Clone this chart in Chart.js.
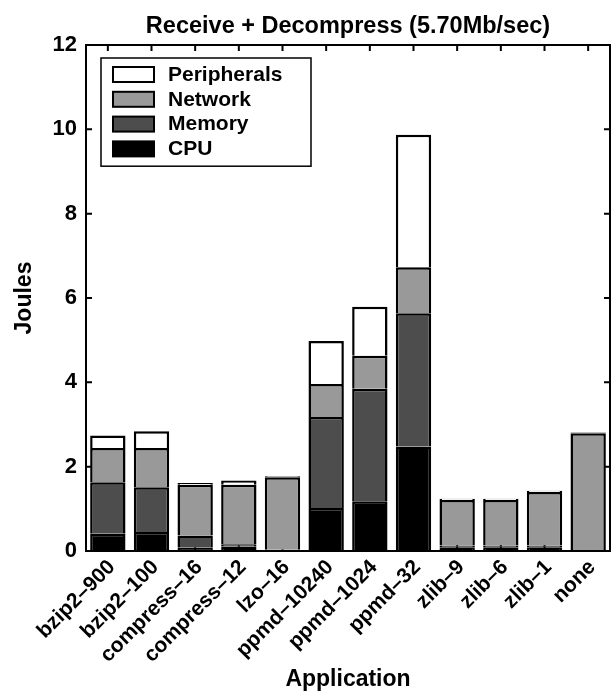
<!DOCTYPE html>
<html>
<head>
<meta charset="utf-8">
<title>Receive + Decompress</title>
<script src="https://cdn.jsdelivr.net/npm/chart.js@4.4.1/dist/chart.umd.min.js"></script>
<style>
  html, body { margin: 0; padding: 0; background: #fff; }
  canvas { display: block; }
</style>
</head>
<body>
<canvas id="energyChart" width="615" height="695"></canvas>
<script>
// Energy per application, split by component (Joules)
const applications = ['bzip2–900', 'bzip2–100', 'compress–16', 'compress–12', 'lzo–16',
  'ppmd–10240', 'ppmd–1024', 'ppmd–32', 'zlib–9', 'zlib–6', 'zlib–1', 'none'];
const cpu         = [0.41, 0.45, 0.08, 0.10, 0.02, 1.02, 1.18, 2.48, 0.09, 0.09, 0.09, 0];
const memory      = [1.22, 1.06, 0.29, 0.06, 0.01, 2.16, 2.67, 3.16, 0.04, 0.04, 0.04, 0];
const network     = [0.81, 0.93, 1.20, 1.41, 1.72, 0.78, 0.78, 1.09, 1.08, 1.08, 1.27, 2.79];
const peripherals = [0.30, 0.40, 0.04, 0.10, 0.02, 1.02, 1.16, 3.14, 0.03, 0.03, 0.03, 0.02];
const yTicks = [0, 2, 4, 6, 8, 10, 12];

const FONT = "'Liberation Sans', Arial, Helvetica, sans-serif";

function series(label, data, color) {
  return {
    label: label,
    data: data,
    backgroundColor: color,
    borderColor: '#000',
    borderWidth: 2.5,
    barPercentage: 0.81,
    categoryPercentage: 1.0
  };
}

// box around the plot with inward tick marks on all four sides
const frame = {
  id: 'frame',
  beforeDatasetsDraw(chart) {
    const { ctx, chartArea: a, scales } = chart;
    ctx.save();
    ctx.strokeStyle = '#000';
    ctx.lineWidth = 2;
    ctx.beginPath();
    yTicks.forEach(v => {
      const y = scales.y.getPixelForValue(v);
      ctx.moveTo(a.left, y); ctx.lineTo(a.left + 6, y);
      ctx.moveTo(a.right, y); ctx.lineTo(a.right - 6, y);
    });
    applications.forEach((_, i) => {
      const x = scales.x.getPixelForValue(i);
      ctx.moveTo(x, a.top); ctx.lineTo(x, a.top + 6);
      ctx.moveTo(x, a.bottom); ctx.lineTo(x, a.bottom - 6);
    });
    ctx.stroke();
    ctx.restore();
  },
  afterDatasetsDraw(chart) {
    const { ctx, chartArea: a } = chart;
    ctx.save();
    ctx.strokeStyle = '#000';
    ctx.lineWidth = 2;
    ctx.strokeRect(a.left, a.top, a.right - a.left, a.bottom - a.top);
    ctx.restore();
  }
};

// legend drawn inside the plot, top-left, stack order reversed
const insideLegend = {
  id: 'insideLegend',
  afterDraw(chart) {
    const { ctx, chartArea: a } = chart;
    const items = chart.data.datasets.slice().reverse();
    const x0 = a.left + 15, y0 = a.top + 13;
    const w = 210, rowH = 24.8, top = 9;
    const h = top * 2 + rowH * items.length - 9;
    ctx.save();
    ctx.fillStyle = '#fff';
    ctx.fillRect(x0, y0, w, h);
    ctx.strokeStyle = '#000';
    ctx.lineWidth = 1.5;
    ctx.strokeRect(x0, y0, w, h);
    ctx.font = 'bold 21px ' + FONT;
    ctx.textBaseline = 'middle';
    ctx.textAlign = 'left';
    items.forEach((ds, i) => {
      const sy = y0 + top + i * rowH;
      ctx.fillStyle = ds.backgroundColor;
      ctx.fillRect(x0 + 12, sy, 41, 15);
      ctx.lineWidth = 2;
      ctx.strokeRect(x0 + 12, sy, 41, 15);
      ctx.fillStyle = '#000';
      ctx.fillText(ds.label, x0 + 67, sy + 8);
    });
    ctx.restore();
  }
};

new Chart(document.getElementById('energyChart'), {
  type: 'bar',
  data: {
    labels: applications,
    datasets: [
      series('CPU', cpu, '#000000'),
      series('Memory', memory, '#4d4d4d'),
      series('Network', network, '#999999'),
      series('Peripherals', peripherals, '#ffffff')
    ]
  },
  options: {
    responsive: false,
    animation: false,
    layout: { padding: { top: 0, right: 5, bottom: 0, left: 0 } },
    plugins: {
      legend: { display: false },
      tooltip: { enabled: false },
      title: {
        display: true,
        fullSize: false,
        text: 'Receive + Decompress (5.70Mb/sec)',
        color: '#000',
        font: { family: FONT, size: 23.5, weight: 'bold' },
        padding: { top: 12, bottom: 4.8 }
      }
    },
    scales: {
      x: {
        stacked: true,
        grid: { display: false, drawTicks: false },
        border: { display: false },
        ticks: {
          color: '#000',
          font: { family: FONT, size: 21, weight: 'bold' },
          maxRotation: 45,
          minRotation: 45,
          padding: 4,
          labelOffset: 4,
          autoSkip: false
        },
        title: {
          display: true,
          text: 'Application',
          color: '#000',
          font: { family: FONT, size: 23, weight: 'bold' },
          padding: { top: 0, bottom: 2 }
        },
        afterFit(scale) { scale.height = 144; }
      },
      y: {
        stacked: true,
        min: 0,
        max: 12,
        grid: { display: false, drawTicks: false },
        border: { display: false },
        ticks: {
          stepSize: 2,
          color: '#000',
          padding: 9,
          font: { family: FONT, size: 22, weight: 'bold' }
        },
        title: {
          display: true,
          text: 'Joules',
          color: '#000',
          font: { family: FONT, size: 23, weight: 'bold' },
          padding: { top: 11, bottom: 0 }
        },
        afterFit(scale) { scale.width = 86; }
      }
    }
  },
  plugins: [frame, insideLegend]
});
</script>
</body>
</html>
